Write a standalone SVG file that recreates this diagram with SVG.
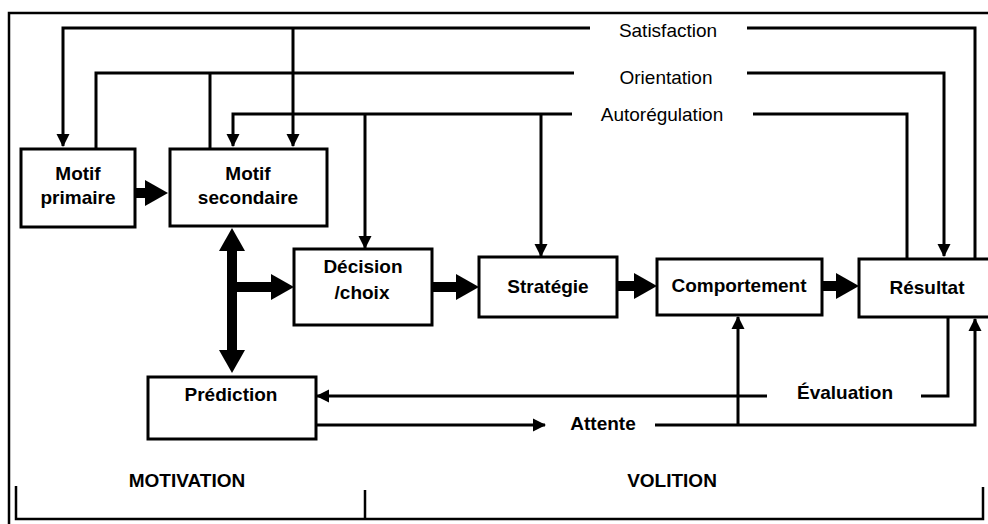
<svg xmlns="http://www.w3.org/2000/svg" width="988" height="524" viewBox="0 0 988 524">
<style>
.box{fill:#fff;stroke:#000;stroke-width:3}
.ln{fill:none;stroke:#000;stroke-width:3}
.thick{fill:none;stroke:#000;stroke-width:10}
.frame{fill:none;stroke:#000;stroke-width:2.5}
.lbl{font-family:"Liberation Sans",Arial,sans-serif;font-size:19px;fill:#000;text-anchor:middle}
.bl{font-family:"Liberation Sans",Arial,sans-serif;font-size:19px;font-weight:bold;fill:#000;text-anchor:middle}
</style>
<defs>
<marker id="ah" markerUnits="userSpaceOnUse" markerWidth="13" markerHeight="14" refX="12" refY="7" orient="auto">
<path d="M0,0.5 L13,7 L0,13.5 z" fill="#000"/>
</marker>
<marker id="big" markerUnits="userSpaceOnUse" markerWidth="24" markerHeight="26" refX="4" refY="13" orient="auto">
<path d="M0,0 L23,13 L0,26 z" fill="#000"/>
</marker>
</defs>
<rect width="988" height="524" fill="#fff"/>
<!-- frame -->
<g id="frame">
<path class="frame" d="M9,524 V13 H988"/>
<path class="frame" d="M16,486 V519 H983 V487 M365,490 V519"/>
</g>
<!-- connectors -->
<g id="connectors">
<!-- Satisfaction -->
<path class="ln" d="M975,259 V28 H747"/>
<path class="ln" d="M590,28 H63 V146" marker-end="url(#ah)"/>
<path class="ln" d="M293,28 V146" marker-end="url(#ah)"/>
<!-- Orientation -->
<path class="ln" d="M96,149 V73 H574"/>
<path class="ln" d="M210,149 V73"/>
<path class="ln" d="M747,73 H944 V256" marker-end="url(#ah)"/>
<!-- Autoregulation -->
<path class="ln" d="M572,114 H233 V146" marker-end="url(#ah)"/>
<path class="ln" d="M365,114 V248" marker-end="url(#ah)"/>
<path class="ln" d="M541,114 V256" marker-end="url(#ah)"/>
<path class="ln" d="M753,114 H907 V259"/>
<!-- Evaluation -->
<path class="ln" d="M948,317 V396 H921"/>
<path class="ln" d="M767,396 H317" marker-end="url(#ah)"/>
<!-- Attente -->
<path class="ln" d="M316,425 H545" marker-end="url(#ah)"/>
<path class="ln" d="M655,425 H975 V319" marker-end="url(#ah)"/>
<path class="ln" d="M738,425 V317" marker-end="url(#ah)"/>
<!-- thick arrows -->
<path class="thick" d="M135,193 H149" marker-end="url(#big)"/>
<path class="thick" d="M232,260 V354" marker-end="url(#big)"/>
<path class="thick" d="M232,292 V247" marker-end="url(#big)"/>
<path class="thick" d="M232,287 H275" marker-end="url(#big)"/>
<path class="thick" d="M432,287 H460" marker-end="url(#big)"/>
<path class="thick" d="M617,286 H638" marker-end="url(#big)"/>
<path class="thick" d="M822,286 H840" marker-end="url(#big)"/>
</g>
<!-- connector labels -->
<g id="labels">
<text class="lbl" x="668" y="37">Satisfaction</text>
<text class="lbl" x="666" y="84">Orientation</text>
<text class="lbl" x="662" y="121">Autorégulation</text>
<text class="bl" x="845" y="399">Évaluation</text>
<text class="bl" x="603" y="430">Attente</text>
<text class="bl" x="187" y="487">MOTIVATION</text>
<text class="bl" x="672" y="487">VOLITION</text>
</g>
<g id="motif-primaire">
<rect class="box" x="21" y="149" width="114" height="78"/>
<text class="bl" x="78" y="180">Motif</text>
<text class="bl" x="78" y="204">primaire</text>
</g>
<g id="motif-secondaire">
<rect class="box" x="170" y="149" width="157" height="77"/>
<text class="bl" x="248" y="180">Motif</text>
<text class="bl" x="248" y="204">secondaire</text>
</g>
<g id="decision">
<rect class="box" x="294" y="249" width="138" height="76"/>
<text class="bl" x="363" y="273">Décision</text>
<text class="bl" x="362" y="299">/choix</text>
</g>
<g id="strategie">
<rect class="box" x="479" y="257" width="138" height="60"/>
<text class="bl" x="548" y="293">Stratégie</text>
</g>
<g id="comportement">
<rect class="box" x="657" y="259" width="165" height="56"/>
<text class="bl" x="739" y="292">Comportement</text>
</g>
<g id="resultat">
<rect class="box" x="859" y="259" width="135" height="58"/>
<text class="bl" x="927" y="294">Résultat</text>
</g>
<g id="prediction">
<rect class="box" x="148" y="377" width="168" height="62"/>
<text class="bl" x="231" y="401">Prédiction</text>
</g>
</svg>
